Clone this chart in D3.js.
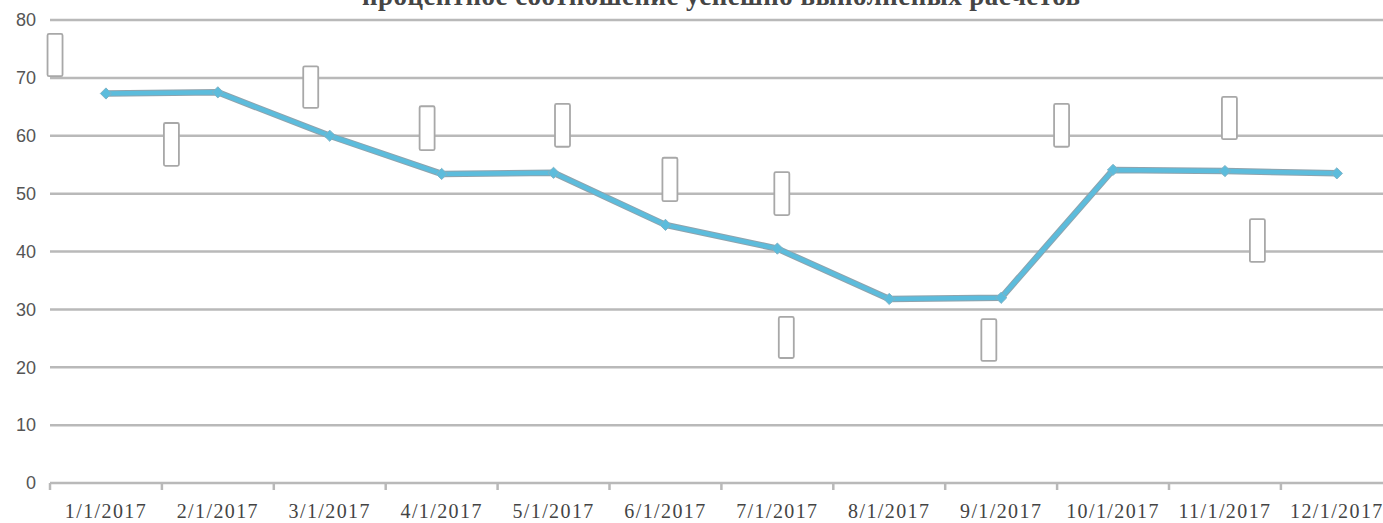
<!DOCTYPE html>
<html>
<head>
<meta charset="utf-8">
<script src="https://cdn.jsdelivr.net/npm/d3@7"></script>
<style>
  body { margin: 0; background: #fff; overflow: hidden; }
</style>
</head>
<body>
<div id="chart"></div>
<script>
const title = "процентное соотношение успешно выполненых расчетов"
const months = ["1/1/2017", "2/1/2017", "3/1/2017", "4/1/2017", "5/1/2017", "6/1/2017",
  "7/1/2017", "8/1/2017", "9/1/2017", "10/1/2017", "11/1/2017", "12/1/2017"]
const values = [67.3, 67.5, 60.0, 53.4, 53.6, 44.6, 40.5, 31.8, 32.0, 54.1, 53.9, 53.5]
const yTicks = [0, 10, 20, 30, 40, 50, 60, 70, 80]
// empty label boxes: position along the category axis (in bands) and value range
const boxPos = [0.045, 1.085, 2.33, 3.37, 4.58, 5.54, 6.54, 6.58, 8.39, 9.04, 10.54, 10.79]
const boxLow = [70.3, 54.8, 64.8, 57.5, 58.1, 48.7, 46.3, 21.6, 21.1, 58.1, 59.4, 38.2]
const boxHigh = [77.6, 62.2, 72.0, 65.1, 65.5, 56.2, 53.7, 28.7, 28.3, 65.5, 66.7, 45.6]

const width = 1383
const height = 523
const margin = { top: 20, left: 50, bottom: 40 }
const bandW = 111.9
const gridColor = '#b9b9b9'

var svg = d3.select('#chart').append('svg')
  .attr('width', width).attr('height', height)

var x = d3.scaleBand().domain(months)
  .range([margin.left, margin.left + bandW * months.length])
var y = d3.scaleLinear().domain([0, 80]).range([height - margin.bottom, margin.top])
var xPos = d3.scaleLinear().domain([0, months.length]).range(x.range())

// title, cut at the top edge as in the original
svg.append('text')
  .attr('x', 362).attr('y', 5)
  .attr('textLength', 718)
  .attr('font-family', 'Liberation Serif')
  .attr('font-size', 27)
  .attr('font-weight', 'bold')
  .attr('fill', '#454545')
  .text(title)

// grid
svg.append('g').selectAll('line').data(yTicks).join('line')
  .attr('x1', margin.left).attr('x2', x.range()[1])
  .attr('y1', d => y(d)).attr('y2', d => y(d))
  .attr('stroke', gridColor).attr('stroke-width', 2.5)

var yAxis = svg.append('g')
  .attr('transform', `translate(${margin.left},0)`)
  .call(d3.axisLeft(y).tickValues(yTicks).tickSize(0).tickPadding(14))
yAxis.select('.domain').remove()
yAxis.selectAll('text')
  .attr('font-family', 'Liberation Sans').attr('font-size', 18).attr('fill', '#555')

var xAxis = svg.append('g')
  .attr('transform', `translate(0,${y(0)})`)
  .call(d3.axisBottom(x).tickSize(0).tickPadding(21))
xAxis.select('.domain').remove()
xAxis.selectAll('text')
  .attr('font-family', 'Liberation Serif').attr('font-size', 20)
  .attr('letter-spacing', 1.4).attr('fill', '#444')
svg.append('g').selectAll('line').data(d3.range(months.length + 1)).join('line')
  .attr('x1', d => xPos(d)).attr('x2', d => xPos(d))
  .attr('y1', y(0)).attr('y2', y(0) + 7)
  .attr('stroke', gridColor).attr('stroke-width', 2.5)

// label boxes
svg.append('g').selectAll('rect').data(boxPos).join('rect')
  .attr('x', d => xPos(d) - 7.5)
  .attr('y', (d, i) => y(boxHigh[i]))
  .attr('width', 15)
  .attr('height', (d, i) => y(boxLow[i]) - y(boxHigh[i]))
  .attr('rx', 1.5)
  .attr('fill', '#fff').attr('stroke', '#a8a8a8').attr('stroke-width', 1.8)

// series
var cx = (d, i) => x(months[i]) + x.bandwidth() / 2
var line = d3.line().x(cx).y(d => y(d))
svg.append('path').datum(values)
  .attr('d', line).attr('fill', 'none')
  .attr('stroke', '#8fa3ad').attr('stroke-width', 6.5).attr('stroke-linejoin', 'round')
svg.append('path').datum(values)
  .attr('d', line).attr('fill', 'none')
  .attr('stroke', '#5cbcdc').attr('stroke-width', 4.5).attr('stroke-linejoin', 'round')
svg.append('g').selectAll('path').data(values).join('path')
  .attr('transform', (d, i) => `translate(${cx(d, i)},${y(d)})`)
  .attr('d', d3.symbol(d3.symbolDiamond2, 80))
  .attr('fill', '#5cbcdc').attr('stroke', '#7fb3c6').attr('stroke-width', 1)
</script>
</body>
</html>
